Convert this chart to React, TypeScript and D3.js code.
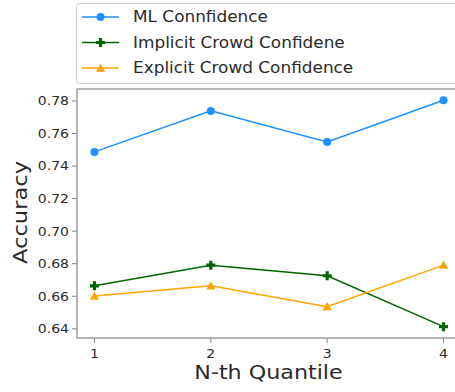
import React from 'react';
import * as d3 from 'd3';

const quantiles = [1, 2, 3, 4];
const mlConfidence = [0.7487, 0.7739, 0.7548, 0.7804];
const implicitCrowd = [0.6664, 0.6791, 0.6726, 0.6413];
const explicitCrowd = [0.6601, 0.6664, 0.6536, 0.6791];
const yTicks = [0.64, 0.66, 0.68, 0.70, 0.72, 0.74, 0.76, 0.78];

const series = [
  { name: 'ML Connfidence', values: mlConfidence, color: '#1e90ff', marker: 'circle' },
  { name: 'Implicit Crowd Confidene', values: implicitCrowd, color: '#006400', marker: 'plus' },
  { name: 'Explicit Crowd Confidence', values: explicitCrowd, color: '#ffa500', marker: 'triangle' },
];

const W = 455, H = 392;
const margin = { top: 89, right: -6, bottom: 54, left: 77 };
const FONT = 'DejaVu Sans, sans-serif';

function Marker({ kind, x, y, color }: { kind: string; x: number; y: number; color: string }) {
  if (kind === 'circle') return <circle cx={x} cy={y} r={4} fill={color} />;
  if (kind === 'plus') {
    const a = 4.5, b = 1.6;
    const d = `M${x - b},${y - a}H${x + b}V${y - b}H${x + a}V${y + b}H${x + b}V${y + a}H${x - b}V${y + b}H${x - a}V${y - b}H${x - b}Z`;
    return <path d={d} fill={color} />;
  }
  const s = 4.6;
  return <path d={`M${x},${y - s}L${x + s},${y + s * 0.8}L${x - s},${y + s * 0.8}Z`} fill={color} />;
}

export default function App() {
  const x0 = margin.left, x1 = W - margin.right;
  const y0 = H - margin.bottom, y1 = margin.top;
  const all = [...mlConfidence, ...implicitCrowd, ...explicitCrowd];
  const lo = d3.min(all)!, hi = d3.max(all)!;
  const pad = (hi - lo) * 0.05;
  const x = d3.scaleLinear().domain([0.85, 4.15]).range([x0, x1]);
  const y = d3.scaleLinear().domain([lo - pad, hi + pad]).range([y0, y1]);

  const line = d3.line<number>()
    .x((_, i) => x(quantiles[i]))
    .y(d => y(d));

  const spine = '#888';
  const text = '#2a2a2a';

  return (
    <svg width={W} height={H} style={{ position: 'absolute', left: 0, top: 0, background: '#fff' }}>
      <rect width={W} height={H} fill="#fff" />
      {/* plot frame */}
      <rect x={x0} y={y1} width={x1 - x0} height={y0 - y1} fill="none" stroke={spine} strokeWidth={1.2} />

      {yTicks.map(t => (
        <g key={t}>
          <line x1={x0 - 5} x2={x0} y1={y(t)} y2={y(t)} stroke={spine} />
          <text transform={`translate(${x0 - 8},${y(t)}) scale(1.12,1)`} dy="0.35em" textAnchor="end" fontSize={12.5} fontFamily={FONT} fill={text}>
            {t.toFixed(2)}
          </text>
        </g>
      ))}
      {quantiles.map(q => (
        <g key={q}>
          <line x1={x(q)} x2={x(q)} y1={y0} y2={y0 + 5} stroke={spine} />
          <text transform={`translate(${x(q)},${y0 + 20}) scale(1.12,1)`} textAnchor="middle" fontSize={12.5} fontFamily={FONT} fill={text}>
            {q}
          </text>
        </g>
      ))}

      <text transform="translate(268.5,379) scale(1.14,1)" textAnchor="middle" fontSize={19.5} fontFamily={FONT} fill={text}>N-th Quantile</text>
      <text transform={`translate(27,212.5) rotate(-90) scale(1.19,1)`} textAnchor="middle" fontSize={19} fontFamily={FONT} fill={text}>
        Accuracy
      </text>

      {series.map(s => (
        <g key={s.name}>
          <path d={line(s.values) ?? ''} fill="none" stroke={s.color} strokeWidth={1.5} />
          {s.values.map((v, i) => (
            <Marker key={i} kind={s.marker} x={x(quantiles[i])} y={y(v)} color={s.color} />
          ))}
        </g>
      ))}

      {/* legend */}
      <rect x={76.5} y={3.5} width={400} height={80} rx={3} fill="#fff" stroke="#ccc" />
      {series.map((s, i) => {
        const ly = 17 + i * 25.5;
        return (
          <g key={s.name}>
            <line x1={82} x2={119} y1={ly} y2={ly} stroke={s.color} strokeWidth={1.5} />
            <Marker kind={s.marker} x={100.5} y={ly} color={s.color} />
            <text transform={`translate(133,${ly}) scale(1.09,1)`} dy="0.35em" fontSize={15.5} fontFamily={FONT} fill={text}>{s.name}</text>
          </g>
        );
      })}
    </svg>
  );
}
